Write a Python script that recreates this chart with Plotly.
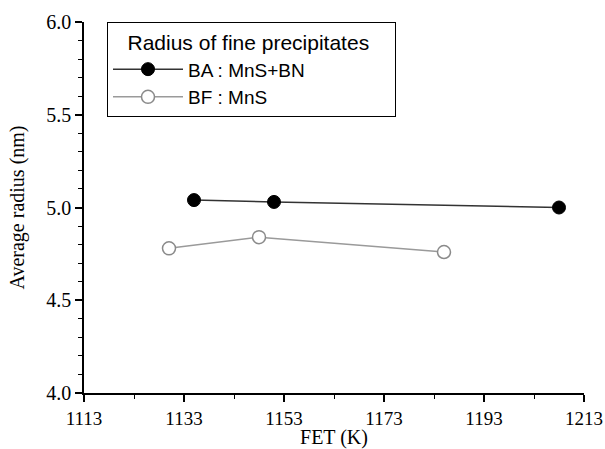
import plotly.graph_objects as go

# data
ba_fet = [1135, 1151, 1208]
ba_radius = [5.04, 5.03, 5.00]
bf_fet = [1130, 1148, 1185]
bf_radius = [4.78, 4.84, 4.76]

serif = "Liberation Serif, Times New Roman, serif"
sans = "Liberation Sans, Arial, sans-serif"
nb = "\u00a0"

fig = go.Figure()

fig.add_trace(go.Scatter(
    x=ba_fet, y=ba_radius, mode="lines+markers", name="BA : MnS+BN",
    line=dict(color="#333333", width=1.5),
    marker=dict(size=13, color="black", line=dict(color="black", width=1)),
))
fig.add_trace(go.Scatter(
    x=bf_fet, y=bf_radius, mode="lines+markers", name="BF : MnS",
    line=dict(color="#9a9a9a", width=1.5),
    marker=dict(size=13, color="white", line=dict(color="#8a8a8a", width=1.5)),
))

fig.update_layout(
    width=605, height=449,
    margin=dict(l=84, r=21, t=22, b=56),
    paper_bgcolor="white", plot_bgcolor="white",
    font=dict(family=serif, size=20, color="black"),
    legend=dict(
        title=dict(text=nb * 3 + "Radius of fine precipitates" + nb * 4,
                   font=dict(family=sans, size=21)),
        font=dict(family=sans, size=19),
        x=0.046, y=1.0, xanchor="left", yanchor="top",
        bordercolor="black", borderwidth=1, bgcolor="white",
        tracegroupgap=0, itemwidth=70,
    ),
)

fig.update_xaxes(
    range=[1113, 1213], tick0=1113, dtick=20, automargin=False,
    ticklabeloverflow="allow",
    showline=True, linecolor="black", linewidth=1.5,
    ticks="outside", ticklen=7, tickwidth=1.5, tickcolor="black",
    minor=dict(dtick=10, tick0=1113, ticks="outside", ticklen=4, tickwidth=1.2, tickcolor="black"),
    showgrid=False, zeroline=False,
    title=dict(text="FET (K)", font=dict(family=serif, size=20), standoff=2),
    tickfont=dict(family=serif, size=19),
)
fig.update_yaxes(
    range=[4.0, 6.0], dtick=0.5, tickformat=".1f", automargin=False,
    showline=True, linecolor="black", linewidth=1.5,
    ticks="outside", ticklen=7, tickwidth=1.5, tickcolor="black",
    minor=dict(dtick=0.1, ticks="outside", ticklen=4, tickwidth=1.2, tickcolor="black"),
    showgrid=False, zeroline=False,
    title=dict(text="Average radius (nm)", font=dict(family=serif, size=20), standoff=16),
    tickfont=dict(family=serif, size=20),
)

fig.write_html("out.html", config={"displayModeBar": False},
               post_script="document.body.style.margin='0';")
